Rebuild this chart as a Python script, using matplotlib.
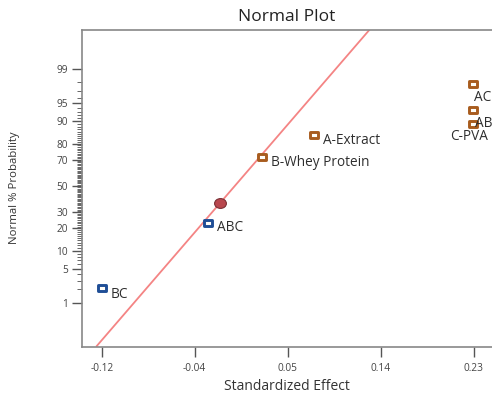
import matplotlib
matplotlib.use('Agg')
import matplotlib.pyplot as plt
import numpy as np
from matplotlib.path import Path
from statistics import NormalDist

plt.rcParams['font.family'] = ['Open Sans', 'DejaVu Sans']

# effects
terms = ['BC', 'ABC', 'B-Whey Protein', 'A-Extract', 'C-PVA', 'AB', 'AC']
effect = [-0.125, -0.0218, 0.0299, 0.0808, 0.2347, 0.2347, 0.2347]
prob = [2.1, 23.3, 71.5, 84.4, 89.1, 93.4, 97.8]
positive = [False, False, True, True, True, True, True]

# error point (red circle)
err_effect = [-0.0105]
err_prob = [36.6]

# fitted line (two end points)
line_effect = [-0.1298, 0.1338]
line_prob = [0.075, 99.9]

# y ticks (normal probability)
ytick_pct = [1, 5, 10, 20, 30, 50, 70, 80, 90, 95, 99]
yminor_pct = [2, 3, 4] + [p for p in range(6, 95) if p not in ytick_pct] + [96, 97, 98]

xtick_pos = [-0.125, -0.035, 0.055, 0.145, 0.235]
xtick_lab = ['-0.12', '-0.04', '0.05', '0.14', '0.23']

# label offsets (points)
lab_off = {'BC': (6.7, -4.1), 'ABC': (6.3, -3.3), 'B-Whey Protein': (6.5, -3.9),
           'A-Extract': (6.5, -3.6), 'C-PVA': (-16.5, -9.2), 'AB': (1.4, -9.4),
           'AC': (0.7, -9.6)}

nd = NormalDist()


def z(p):
    return [nd.inv_cdf(v / 100.0) for v in p]


W, H = 492, 398
fig = plt.figure(figsize=(W / 100, H / 100), dpi=100)
ax = fig.add_axes([82 / W, 1 - 346.5 / H, (495 - 82) / W, (346.5 - 30) / H])

# custom markers (image is slightly stretched horizontally)
rect = Path([(-0.72, -0.5), (0.72, -0.5), (0.72, 0.5), (-0.72, 0.5), (-0.72, -0.5)],
            [Path.MOVETO, Path.LINETO, Path.LINETO, Path.LINETO, Path.CLOSEPOLY])
circ = Path.unit_circle()
ell = Path(circ.vertices * np.array([1.2, 1.0]), circ.codes)

ax.plot(line_effect, z(line_prob), color='#F48484', lw=1.3, zorder=2)

zz = z(prob)
for i in range(len(terms)):
    col = '#A85C1E' if positive[i] else '#1F4E96'
    ax.plot(effect[i], zz[i], marker=rect, ms=5.6, mew=2.1, mec=col, mfc='#FFFDF8',
            ls='none', zorder=4)
    ax.annotate(terms[i], (effect[i], zz[i]), xytext=lab_off[terms[i]],
                textcoords='offset points', ha='left', va='center',
                fontsize=9.8, color='#2E2E2E', zorder=5)

ax.plot(err_effect, z(err_prob), marker=ell, ms=8.5, mew=0.8, mec='#7A3035',
        mfc='#B9474E', ls='none', zorder=3)

ax.set_xlim(-0.1441, 0.2557)
ax.set_ylim(-3.185, 3.095)

ax.set_xticks(xtick_pos)
ax.set_xticklabels(xtick_lab)
ax.set_yticks(z(ytick_pct))
ax.set_yticklabels([str(p) for p in ytick_pct])
ax.set_yticks(z(yminor_pct), minor=True)

ax.tick_params(axis='both', which='major', length=7, width=1, color='#555555',
               labelsize=7.3, labelcolor='#444444')
ax.tick_params(axis='x', pad=5)
ax.tick_params(axis='y', pad=3)
ax.tick_params(axis='y', which='minor', length=3.5, width=0.7, color='#666666')

for s in ax.spines.values():
    s.set_color('#888888')
    s.set_linewidth(1.2)
ax.spines['right'].set_visible(False)

ax.set_xlabel('Standardized Effect', fontsize=10, color='#333333')
ax.xaxis.set_label_coords((287 - 82) / 413, -(387 - 346.5) / 316.5)
ax.xaxis.label.set_va('center')
ax.set_ylabel('Normal % Probability', fontsize=8.2, color='#333333')
ax.yaxis.set_label_coords((15 - 82) / 413, (346.5 - 188) / 316.5)
ax.yaxis.label.set_va('center')

ax.text((287 - 82) / 413, 1 + 13 / 316.5, 'Normal Plot', transform=ax.transAxes,
        ha='center', va='center', fontsize=12.5, color='#222222')

fig.savefig('out.png', dpi=100)
